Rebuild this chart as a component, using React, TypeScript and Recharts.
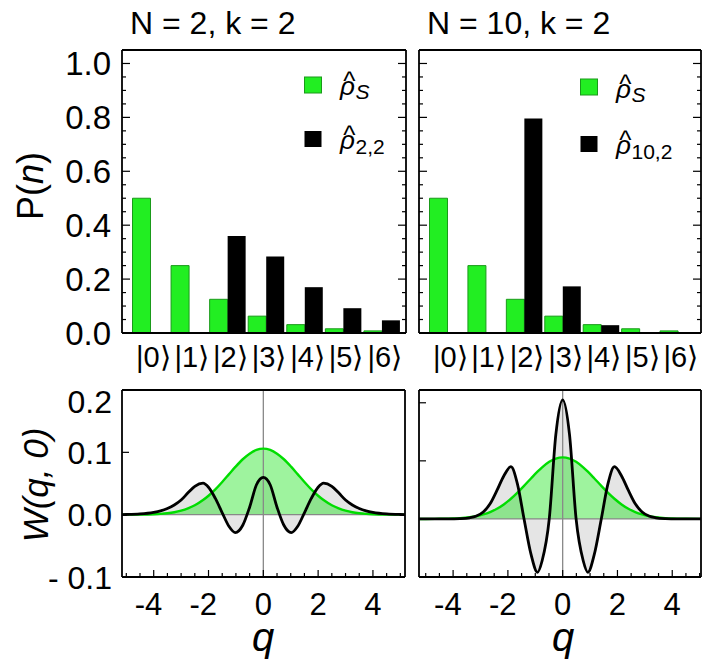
import React from 'react';
import {
  BarChart,
  Bar,
  ComposedChart,
  Area,
  Line,
  XAxis,
  YAxis,
  ReferenceLine,
  Legend,
} from 'recharts';

const FONT = '"Liberation Sans", Arial, Helvetica, sans-serif';
const BAR_GREEN = '#22ee22';
const BAR_EDGE = '#1a9a1a';
const LINE_GREEN = '#00dd00';
const FRAME = { stroke: '#000', strokeWidth: 1.8 };

// --- photon number distributions (top row) ---
const states = ['|0⟩', '|1⟩', '|2⟩', '|3⟩', '|4⟩', '|5⟩', '|6⟩'];
const thermalP = [0.5, 0.25, 0.125, 0.0625, 0.031, 0.0156, 0.0078];
const addedN2 = [0, 0, 0.36, 0.284, 0.17, 0.092, 0.047];
const addedN10 = [0, 0, 0.796, 0.173, 0.029, 0.002, 0.0003];

const pTicks = [0, 0.05, 0.1, 0.15, 0.2, 0.25, 0.3, 0.35, 0.4, 0.45, 0.5, 0.55, 0.6, 0.65, 0.7, 0.75, 0.8, 0.85, 0.9, 0.95, 1.0];
const qTicks = [-5, -4.5, -4, -3.5, -3, -2.5, -2, -1.5, -1, -0.5, 0, 0.5, 1, 1.5, 2, 2.5, 3, 3.5, 4, 4.5, 5];
const wTicks = [-0.1, 0, 0.1, 0.2];

// --- Wigner function cuts W(q, 0) (bottom row) ---
const qN2 = [-5.3, -5, -4.5, -4, -3.75, -3.5, -3.25, -3, -2.75, -2.5, -2.2, -2, -1.75, -1.5, -1.25, -1.02, -0.75, -0.5, -0.25, 0,
  0.25, 0.5, 0.75, 1.02, 1.25, 1.5, 1.75, 2, 2.2, 2.5, 2.75, 3, 3.25, 3.5, 3.75, 4, 4.5, 5, 5.3];
const wAddedN2 = [0.0001, 0.0003, 0.0012, 0.0038, 0.0062, 0.01, 0.0155, 0.0235, 0.035, 0.0455, 0.0505, 0.044, 0.026, 0.003, -0.019, -0.0288, -0.017, 0.012, 0.048, 0.0598,
  0.048, 0.012, -0.017, -0.0288, -0.019, 0.003, 0.026, 0.044, 0.0505, 0.0455, 0.035, 0.0235, 0.0155, 0.01, 0.0062, 0.0038, 0.0012, 0.0003, 0.0001];
const wThermalN2 = [0, 0.0001, 0.0002, 0.0007, 0.0013, 0.0023, 0.0039, 0.0064, 0.01, 0.015, 0.0234, 0.0304, 0.0407, 0.0525, 0.0651, 0.0766, 0.0889, 0.0978, 0.1039, 0.106,
  0.1039, 0.0978, 0.0889, 0.0766, 0.0651, 0.0525, 0.0407, 0.0304, 0.0234, 0.015, 0.01, 0.0064, 0.0039, 0.0023, 0.0013, 0.0007, 0.0002, 0.0001, 0];

const qN10 = [-5.3, -5, -4.5, -4, -3.75, -3.4, -3.15, -2.9, -2.65, -2.4, -2.15, -1.89, -1.65, -1.41, -1.15, -0.92, -0.75, -0.49, -0.25, 0,
  0.25, 0.49, 0.75, 0.92, 1.15, 1.41, 1.65, 1.89, 2.15, 2.4, 2.65, 2.9, 3.15, 3.4, 3.75, 4, 4.5, 5, 5.3];
const wAddedN10 = [0, 0, 0, 0.0002, 0.0005, 0.002, 0.005, 0.012, 0.026, 0.049, 0.074, 0.09, 0.06, 0, -0.062, -0.092, -0.072, 0, 0.145, 0.205,
  0.145, 0, -0.072, -0.092, -0.062, 0, 0.06, 0.09, 0.074, 0.049, 0.026, 0.012, 0.005, 0.002, 0.0005, 0.0002, 0, 0, 0];
const wThermalN10 = [0, 0, 0.0002, 0.0007, 0.0013, 0.0029, 0.0048, 0.0077, 0.0118, 0.0175, 0.025, 0.0347, 0.0453, 0.0569, 0.0701, 0.0814, 0.0889, 0.0985, 0.1039, 0.106,
  0.1039, 0.0985, 0.0889, 0.0814, 0.0701, 0.0569, 0.0453, 0.0347, 0.025, 0.0175, 0.0118, 0.0077, 0.0048, 0.0029, 0.0013, 0.0007, 0.0002, 0, 0];

const popRows = (added: number[]) =>
  states.map((s, i) => ({ state: s, thermal: thermalP[i], added: added[i] }));
const wigRows = (q: number[], added: number[], thermal: number[]) =>
  q.map((v, i) => ({ q: v, added: added[i], thermal: thermal[i] }));

const isMajorP = (v: number) => Math.round(v * 100) % 20 === 0;

// ---------- tick renderers ----------
const PLeftTick = (props: any, labels: boolean) => {
  const { x, y, payload } = props;
  const v = payload.value;
  const major = isMajorP(v);
  return (
    <g>
      <line x1={x} x2={x + (major ? 8 : 4)} y1={y} y2={y} stroke="#000" strokeWidth={1.2} />
      {labels && major && (
        <text x={x - 11} y={y} dy="0.36em" textAnchor="end" fontSize={33} fontFamily={FONT} fill="#000">
          {v.toFixed(1)}
        </text>
      )}
    </g>
  );
};

const PRightTick = (props: any) => {
  const { x, y, payload } = props;
  const major = isMajorP(payload.value);
  return <line x1={x} x2={x - (major ? 8 : 4)} y1={y} y2={y} stroke="#000" strokeWidth={1.2} />;
};

const StateTick = (props: any) => {
  const { x, y, payload } = props;
  return (
    <text x={x + 3} y={y + 34} textAnchor="middle" fontSize={29} fontFamily={FONT} fill="#000">
      {payload.value}
    </text>
  );
};

const WLeftTick = (props: any, labels: boolean) => {
  const { x, y, payload } = props;
  const v = payload.value;
  const text = v < 0 ? '- 0.1' : v.toFixed(1);
  const shift = v > 0.15 ? 11 : 0;
  return (
    <g>
      <line x1={x} x2={x + 7} y1={y} y2={y} stroke="#000" strokeWidth={1.2} />
      {labels && (
        <text x={x - 10} y={y + shift} dy="0.36em" textAnchor="end" fontSize={32} fontFamily={FONT} fill="#000">
          {text}
        </text>
      )}
    </g>
  );
};

const QTick = (props: any) => {
  const { x, y, payload } = props;
  const v = payload.value;
  const major = v % 2 === 0;
  return (
    <g>
      <line x1={x} x2={x} y1={y} y2={y - (major ? 7 : 4)} stroke="#000" strokeWidth={1.2} />
      {major && (
        <text
          x={v < 0 ? x + 8.6 : x}
          y={y + 38}
          textAnchor={v < 0 ? 'end' : 'middle'}
          fontSize={31}
          fontFamily={FONT}
          fill="#000"
        >
          {String(v)}
        </text>
      )}
    </g>
  );
};

// ---------- text pieces (own prop names so Recharts' cloned x/y are ignored) ----------
const FixedText = ({ px, py, size, anchor = 'middle', rotate = false, italic = false, children }: any) => (
  <text
    x={px}
    y={py}
    transform={rotate ? `rotate(-90 ${px} ${py})` : undefined}
    textAnchor={anchor}
    fontSize={size}
    fontFamily={FONT}
    fontStyle={italic ? 'italic' : 'normal'}
    fill="#000"
  >
    {children}
  </text>
);

// rho with a hat and a subscript, all in one text element
const RhoLabel = ({ x, base, sub, subItalic, dySub }: any) => (
  <text x={x} y={base} fontFamily={FONT} fontSize={26} fontStyle="italic" fill="#000">
    {'\u03C1'}
    <tspan fontSize={26} fontStyle="normal" dx={-11.6} dy={-5}>^</tspan>
    <tspan fontSize={21} dx={0} dy={dySub + 5} fontStyle={subItalic ? 'italic' : 'normal'}>{sub}</tspan>
  </text>
);

const RhoLegend = ({ sub, rows }: { sub: string; rows: number[][] }) => (
  <svg width={130} height={110} style={{ display: 'block', overflow: 'visible' }}>
    <rect x={0.5} y={rows[0][0]} width={17} height={16} fill={BAR_GREEN} stroke={BAR_EDGE} />
    <RhoLabel x={36} base={rows[0][1]} sub="S" subItalic dySub={4} />
    <rect x={0.5} y={rows[1][0]} width={17} height={16} fill="#000" />
    <RhoLabel x={36} base={rows[1][1]} sub={sub} dySub={5} />
  </svg>
);

// ---------- panels ----------
function PopulationPanel({ added, width, margin, labels, title, titleX, sub, legendLeft, legendRows }: any) {
  const data = popRows(added);
  return (
    <BarChart
      width={width}
      height={380}
      data={data}
      margin={margin}
      barCategoryGap={1.5}
      barGap={0}
    >
      <XAxis
        dataKey="state"
        height={40}
        padding={labels ? { left: 9, right: 5 } : { left: 9, right: 4 }}
        tickSize={0}
        tickMargin={0}
        tickLine={false}
        axisLine={FRAME}
        tick={StateTick}
        interval={0}
      />
      <XAxis
        xAxisId="top"
        orientation="top"
        dataKey="state"
        height={1}
        tick={false}
        tickLine={false}
        axisLine={FRAME}
        label={<FixedText px={titleX} py={34} size={32} anchor="start">{title}</FixedText>}
      />
      <YAxis
        type="number"
        width={labels ? 60 : 1}
        domain={[0, 1.05]}
        allowDataOverflow
        ticks={pTicks}
        interval={0}
        tickSize={0}
        tickMargin={0}
        tickLine={false}
        axisLine={FRAME}
        tick={(p: any) => PLeftTick(p, labels)}
        label={
          labels ? (
            <FixedText px={43} py={186} size={36} rotate>
              P(<tspan fontStyle="italic">n</tspan>)
            </FixedText>
          ) : undefined
        }
      />
      <YAxis
        yAxisId="r"
        orientation="right"
        type="number"
        width={1}
        domain={[0, 1.05]}
        allowDataOverflow
        ticks={pTicks}
        interval={0}
        tickSize={0}
        tickMargin={0}
        tickLine={false}
        axisLine={FRAME}
        tick={PRightTick}
      />
      <Legend
        layout="vertical"
        align="center"
        verticalAlign="middle"
        wrapperStyle={{ position: 'absolute', left: legendLeft, top: 60, width: 130, height: 110 }}
        content={() => <RhoLegend sub={sub} rows={legendRows} />}
      />
      <Bar dataKey="thermal" name="thermal" fill={BAR_GREEN} stroke={BAR_EDGE} strokeWidth={1} isAnimationActive={false} />
      <Bar dataKey="added" name="added" fill="#000" isAnimationActive={false} />
    </BarChart>
  );
}

function WignerPanel({ q, added, thermal, width, margin, labels, domainX, domainY, qX }: any) {
  const data = wigRows(q, added, thermal);
  return (
    <ComposedChart width={width} height={295} data={data} margin={margin}>
      <XAxis
        dataKey="q"
        type="number"
        height={60}
        domain={domainX}
        allowDataOverflow
        ticks={qTicks}
        interval={0}
        tickSize={0}
        tickMargin={0}
        tickLine={false}
        axisLine={FRAME}
        tick={QTick}
        label={<FixedText px={qX} py={281} size={40} italic>q</FixedText>}
      />
      <XAxis
        xAxisId="top"
        orientation="top"
        dataKey="q"
        type="number"
        height={1}
        domain={domainX}
        allowDataOverflow
        tick={false}
        tickLine={false}
        axisLine={FRAME}
      />
      <YAxis
        type="number"
        width={labels ? 60 : 1}
        domain={domainY}
        allowDataOverflow
        ticks={wTicks}
        interval={0}
        tickSize={0}
        tickMargin={0}
        tickLine={false}
        axisLine={FRAME}
        tick={(p: any) => WLeftTick(p, labels)}
        label={
          labels ? (
            <FixedText px={48} py={115} size={35} rotate italic>
              W(q, 0)
            </FixedText>
          ) : undefined
        }
      />
      <YAxis
        yAxisId="r"
        orientation="right"
        type="number"
        width={1}
        domain={domainY}
        allowDataOverflow
        tick={false}
        tickLine={false}
        axisLine={FRAME}
      />
      <ReferenceLine y={0} stroke="#888" strokeWidth={1.3} />
      <ReferenceLine x={0} stroke="#888" strokeWidth={1.3} />
      <Area
        type="monotone"
        dataKey="added"
        baseValue={0}
        stroke="none"
        fill="#bbbbbb"
        fillOpacity={0.38}
        isAnimationActive={false}
      />
      <Area
        type="monotone"
        dataKey="thermal"
        baseValue={0}
        stroke="none"
        fill="#00e000"
        fillOpacity={0.38}
        isAnimationActive={false}
      />
      <Line type="monotone" dataKey="thermal" stroke={LINE_GREEN} strokeWidth={2.4} dot={false} isAnimationActive={false} />
      <Line type="monotone" dataKey="added" stroke="#000" strokeWidth={2.8} dot={false} isAnimationActive={false} />
    </ComposedChart>
  );
}

export default function App() {
  return (
    <div style={{ position: 'absolute', left: 0, top: 0, width: 702, height: 665, background: '#fff', fontFamily: FONT, overflow: 'hidden' }}>
      <div style={{ position: 'absolute', left: 0, top: 0 }}>
        <PopulationPanel
          added={addedN2}
          width={410}
          margin={{ top: 49, right: 3, bottom: 7, left: 62 }}
          labels
          title="N = 2, k = 2"
          titleX={130}
          sub="2,2"
          legendLeft={304}
          legendRows={[[17, 35], [71, 89]]}
        />
      </div>
      <div style={{ position: 'absolute', left: 380, top: 0 }}>
        <PopulationPanel
          added={addedN10}
          width={322}
          margin={{ top: 49, right: 0, bottom: 7, left: 38 }}
          labels={false}
          title="N = 10, k = 2"
          titleX={47}
          sub="10,2"
          legendLeft={200}
          legendRows={[[19, 38], [76, 94]]}
        />
      </div>
      <div style={{ position: 'absolute', left: 0, top: 370 }}>
        <WignerPanel
          q={qN2}
          added={wAddedN2}
          thermal={wThermalN2}
          width={410}
          margin={{ top: 19, right: 4, bottom: 28, left: 62 }}
          labels
          domainX={[-5.157, 5.17]}
          domainY={[-0.1, 0.2]}
          qX={263}
        />
      </div>
      <div style={{ position: 'absolute', left: 380, top: 370 }}>
        <WignerPanel
          q={qN10}
          added={wAddedN10}
          thermal={wThermalN10}
          width={322}
          margin={{ top: 19, right: 0, bottom: 28, left: 38 }}
          labels={false}
          domainX={[-5.245, 5.05]}
          domainY={[-0.1, 0.222]}
          qX={183}
        />
      </div>
    </div>
  );
}
